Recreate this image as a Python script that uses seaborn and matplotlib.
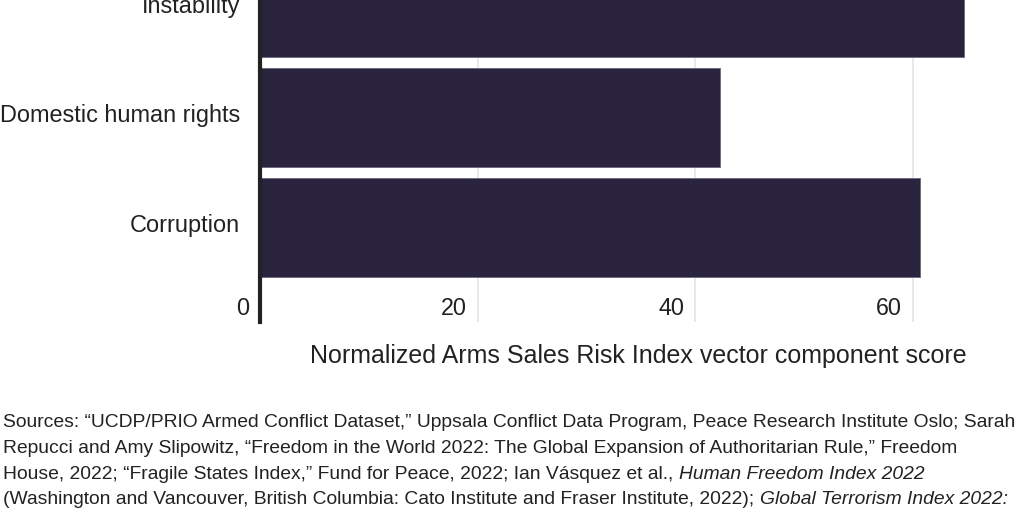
import matplotlib
matplotlib.use("Agg")
import matplotlib.pyplot as plt
import matplotlib.transforms as mtransforms
import seaborn as sns
import pandas as pd

# 数据
categories = ["Instability", "Domestic human rights", "Corruption"]
scores = [64.7, 42.3, 60.6]
x_ticks = [0, 20, 40, 60]
x_label = "Normalized Arms Sales Risk Index vector component score"

source_lines = [
    [("Sources: \u201cUCDP/PRIO Armed Conflict Dataset,\u201d Uppsala Conflict Data Program, Peace Research Institute Oslo; Sarah", "normal")],
    [("Repucci and Amy Slipowitz, \u201cFreedom in the World 2022: The Global Expansion of Authoritarian Rule,\u201d Freedom", "normal")],
    [("House, 2022; \u201cFragile States Index,\u201d Fund for Peace, 2022; Ian V\u00e1squez et al., ", "normal"),
     ("Human Freedom Index 2022", "italic")],
    [("(Washington and Vancouver, British Columbia: Cato Institute and Fraser Institute, 2022); ", "normal"),
     ("Global Terrorism Index 2022:", "italic")],
]

bar_color = "#29233d"
text_color = "#222222"

sns.set_theme(style="white")
plt.rcParams['font.family'] = ['Liberation Sans', 'DejaVu Sans']

df = pd.DataFrame({"category": categories, "score": scores})

fig = plt.figure(figsize=(10.24, 5.12), dpi=100)
ax = fig.add_axes([260 / 1024, 190.3 / 512, 762 / 1024, 321.7 / 512])

sns.barplot(data=df, y="category", x="score", order=categories, color=bar_color,
            saturation=1, width=0.9, edgecolor="#6b6680", linewidth=0.6, ax=ax, zorder=3)

ax.set_xlim(0, 70)
ax.set_ylim(2.86, -0.07)

# 网格线
ax.set_xticks(x_ticks)
ax.xaxis.grid(True, color="#e4e4e6", linewidth=1.2, zorder=0)
ax.yaxis.grid(False)
for side in ["top", "right", "bottom"]:
    ax.spines[side].set_visible(False)
ax.spines["left"].set_color(text_color)
ax.spines["left"].set_linewidth(3)
ax.spines["left"].set_zorder(5)

# x 轴刻度标签放在图内, 右对齐
ax.tick_params(axis="x", length=0, pad=-17.5, labelsize=16.8, labelcolor=text_color)
ax.set_xticklabels([str(t) for t in x_ticks])
offset = mtransforms.ScaledTranslation(-11 / 100, 0, fig.dpi_scale_trans)
for lab in ax.get_xticklabels():
    lab.set_horizontalalignment("right")
    lab.set_transform(lab.get_transform() + offset)

ax.tick_params(axis="y", length=0, pad=14.4, labelsize=16.9, labelcolor=text_color)
up = mtransforms.ScaledTranslation(0, 4 / 100, fig.dpi_scale_trans)
for lab in ax.get_yticklabels():
    lab.set_transform(lab.get_transform() + up)
ax.set_ylabel("")
ax.set_xlabel("")

fig.text(638 / 1024, 1 - 356 / 512, x_label, ha="center", va="center",
         fontsize=18, color=text_color)

# 资料来源
baselines = [427, 453, 479, 504]
fs = 13.9
for line, yb in zip(source_lines, baselines):
    prev = None
    for txt, style in line:
        if prev is None:
            prev = fig.text(3 / 1024, 1 - yb / 512, txt, ha="left", va="baseline",
                            fontsize=fs, style=style, color=text_color)
        else:
            prev = ax.annotate(txt, xy=(1, 0), xycoords=prev, ha="left", va="bottom",
                               fontsize=fs, style=style, color=text_color,
                               annotation_clip=False)

fig.savefig("out.png", dpi=100)
